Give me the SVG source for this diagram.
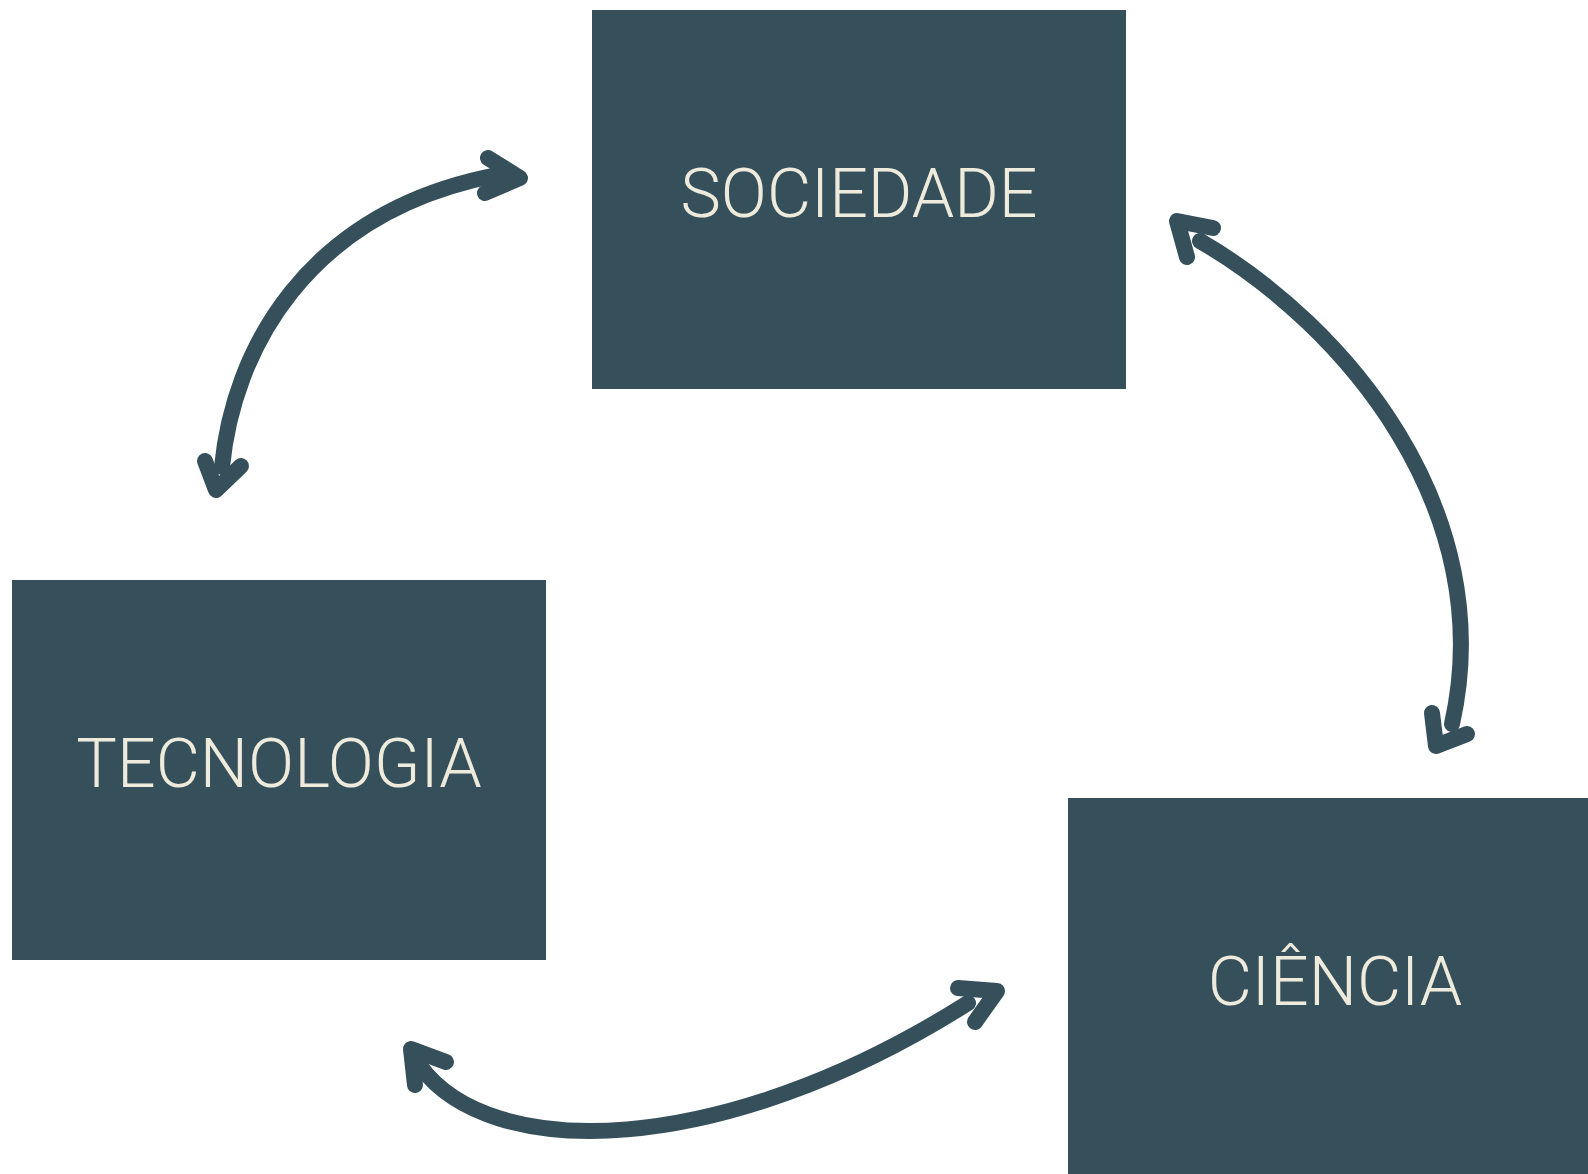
<svg xmlns="http://www.w3.org/2000/svg" width="1588" height="1174" viewBox="0 0 1588 1174">
<style>
.box{fill:#36505B}
.lbl{font-family:Roboto,"Liberation Sans",sans-serif;font-weight:300;font-size:68px;fill:#EEEBDC;text-anchor:middle}
.shaft,.head{fill:none;stroke:#36505B;stroke-width:16;stroke-linecap:round;stroke-linejoin:round}
</style>
<rect width="1588" height="1174" fill="#FFFFFF"/>
<g id="sociedade">
<rect class="box" x="592" y="10" width="534" height="379"/>
<text class="lbl" x="859" y="217">SOCIEDADE</text>
</g>
<g id="tecnologia">
<rect class="box" x="12" y="580" width="534" height="380"/>
<text class="lbl" x="279" y="787">TECNOLOGIA</text>
</g>
<g id="ciencia">
<rect class="box" x="1068" y="798" width="534" height="380"/>
<text class="lbl" x="1335" y="1005">CIÊNCIA</text>
</g>
<g id="connectors">
<g id="tec-soc">
<path class="shaft" d="M222,467 C233,352 305,212 497,175"/>
<polyline class="head" points="488,158 520,178 485,193"/>
<polyline class="head" points="205,461 216,490 241,466"/>
</g>
<g id="soc-cie">
<path class="shaft" d="M1200,241 C1345,325 1500,510 1452,724"/>
<polyline class="head" points="1213,228 1177,221 1187,257"/>
<polyline class="head" points="1432,713 1436,746 1467,734"/>
</g>
<g id="tec-cie">
<path class="shaft" d="M420,1066 C490,1162 720,1160 968,1003"/>
<polyline class="head" points="415,1085 411,1049 446,1062"/>
<polyline class="head" points="958,988 997,991 975,1022"/>
</g>
</g>
</svg>
